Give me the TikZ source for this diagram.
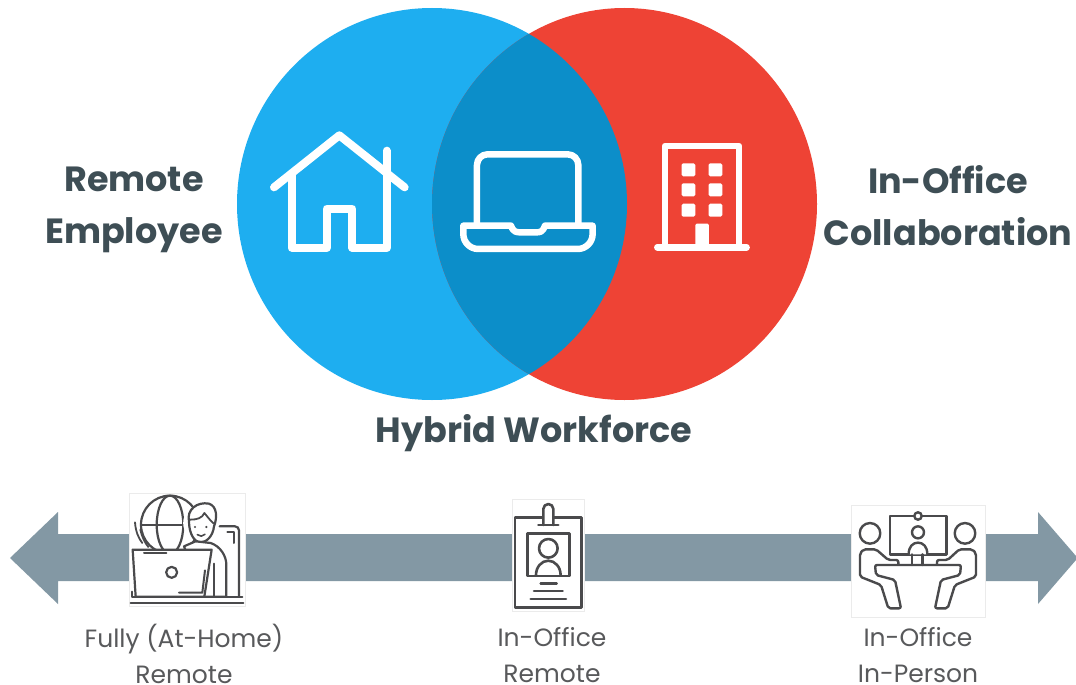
\documentclass[tikz,border=0pt]{standalone}
\usepackage{fontspec}
\setmainfont{Poppins}
\definecolor{cblue}{HTML}{1EAEF0}
\definecolor{cred}{HTML}{EE4335}
\definecolor{cmid}{HTML}{0C8EC9}
\definecolor{cbar}{HTML}{8398A4}
\definecolor{chead}{HTML}{3E4E55}
\definecolor{ccap}{HTML}{58595B}
\definecolor{cicon}{HTML}{4A4A4C}
\tikzset{
 headlabel/.style={font=\fontsize{35}{52}\selectfont\bfseries,text=chead,align=center,inner sep=0pt},
 caplabel/.style={font=\fontsize{25}{36}\selectfont,text=ccap,align=center,inner sep=0pt},
 wicon/.style={draw=white,line width=#1,line join=round,line cap=round},
 dicon/.style={draw=cicon,line width=#1,line join=round,line cap=round},
 ibox/.style={fill=white,draw=black!8,line width=.5pt}
}
\begin{document}
\begin{tikzpicture}[x=1pt,y=-1pt]
\useasboundingbox (0,0) rectangle (1076,685);
\fill[white] (0,0) rectangle (1076,685);
% Venn
\fill[cblue] (432,204) ellipse [x radius=195,y radius=196];
\fill[cred] (624.5,204) ellipse [x radius=192.5,y radius=196];
\begin{scope}
\clip (432,204) ellipse [x radius=195,y radius=196];
\fill[cmid] (624.5,204) ellipse [x radius=192.5,y radius=196];
\end{scope}
% top icons
\begin{scope}[shift={(250,110)},x=.3333pt,y=-.3333pt]
\draw[wicon=8pt] (72,232) -- (268,76) -- (464,232);
\draw[wicon=8pt] (125,195) -- (125,413) -- (230,413) -- (230,296) -- (307,296) -- (307,413) -- (410,413) -- (410,122);
\draw[wicon=6.5pt] (681,345) -- (681,165) arc[start angle=180,end angle=90,radius=10.7pt] -- (953,133) arc[start angle=90,end angle=0,radius=10.7pt] -- (985,345);
\draw[wicon=6.5pt] (640,347) -- (783,347) .. controls (790,367) and (800,367) .. (812,367) -- (858,367) .. controls (870,367) and (878,367) .. (885,347) -- (1028,347) -- (1028,372) arc[start angle=0,end angle=-90,radius=15pt] -- (685,417) arc[start angle=-90,end angle=-180,radius=15pt] -- cycle;
\draw[wicon=6.5pt] (1245,412) -- (1245,108) -- (1467,108) -- (1467,412);
\draw[wicon=6.5pt] (1222,412) -- (1490,412);
\foreach \xa in {1295,1376}\foreach \ya in {160,220,281}
 \fill[white,rounded corners=1.5pt] (\xa,\ya) rectangle ++(41,39);
\fill[white,rounded corners=1.5pt] (1336,341) rectangle (1377,412);
\end{scope}
% bar
\fill[cbar] (10,558) -- (58,512) -- (58,534) -- (1038,534) -- (1038,512) -- (1076,556) -- (1076,560) -- (1038,604) -- (1038,581) -- (58,581) -- (58,604) -- cycle;
\path[ibox] (129,493) rectangle (245,606);
\path[ibox] (512,499) rectangle (584,611);
\path[ibox] (851,505) rectangle (985,617);
% laptop person
\begin{scope}[shift={(129,493)},x=.3333pt,y=-.3333pt]
\draw[dicon=2.2pt] (123,95) circle (29pt);
\draw[dicon=2.2pt] (123,95) ellipse [x radius=13.3pt,y radius=29pt];
\draw[dicon=2.2pt] (36,97) -- (210,97);
\draw[dicon=1.8pt] (18,88) .. controls (20,115) and (28,135) .. (40,150);
\draw[dicon=1.8pt] (34,110) .. controls (38,130) and (48,150) .. (58,162);
\fill[white] (218,90) circle (18.5pt);
\draw[dicon=2.2pt,fill=white] (180,85) .. controls (172,50) and (205,25) .. (240,32) .. controls (265,40) and (265,75) .. (255,100) .. controls (252,130) and (232,148) .. (215,148) .. controls (195,148) and (180,120) .. (180,85) -- cycle;
\draw[dicon=1.8pt] (183,80) .. controls (205,80) and (220,75) .. (226,60) .. controls (235,70) and (245,85) .. (255,92);
\fill[cicon] (198,102) circle (1.2pt) (232,102) circle (1.2pt);
\draw[dicon=1.6pt] (205,125) .. controls (212,131) and (222,131) .. (228,124);
\draw[dicon=2.2pt] (272,100) -- (318,100) arc[start angle=90,end angle=0,radius=4pt] -- (330,311);
\draw[dicon=2.0pt] (295,118) -- (315,118) -- (315,150);
\draw[dicon=2.2pt,fill=white] (165,160) -- (200,145) -- (245,150) .. controls (275,160) and (292,190) .. (292,215) -- (292,311) -- (225,311) -- cycle;
\draw[dicon=2pt] (256,212) -- (256,311);
\draw[dicon=2.2pt,fill=white] (11,170) -- (248,170) -- (226,311) -- (20,311) -- cycle;
\draw[dicon=2pt] (45,180) -- (112,180);
\draw[dicon=2.2pt] (128,238) circle (5.5pt);
\draw[dicon=2pt] (150,299) -- (220,299) -- (228,232);
\draw[dicon=2.2pt] (10,296) -- (10,311) -- (340,311);
\draw[dicon=2.2pt] (5,329) -- (343,329);
\end{scope}
% badge
\begin{scope}[shift={(480,490)},x=.3333pt,y=-.3333pt]
\draw[dicon=2.6pt] (105,82) rectangle (305,352);
\draw[dicon=2.6pt,fill=white] (190,105) -- (190,57) arc[start angle=180,end angle=0,radius=5pt] -- (220,105);
\draw[dicon=2.6pt] (175,105) -- (235,105);
\draw[dicon=2.6pt] (142,130) rectangle (268,258);
\draw[dicon=2.6pt] (205,175) circle (9.3pt);
\draw[dicon=2.6pt] (168,255) arc[start angle=180,end angle=0,x radius=12.3pt,y radius=14.3pt];
\draw[dicon=2.6pt] (182,280) -- (230,280);
\draw[dicon=2.6pt] (162,303) -- (248,303);
\draw[dicon=2.6pt] (152,327) -- (258,327);
\end{scope}
% meeting
\begin{scope}[shift={(851,505)},x=.3333pt,y=-.3333pt]
\draw[dicon=2.4pt] (117,33) rectangle (287,148);
\draw[dicon=2.4pt,fill=white] (201,33) circle (3.7pt);
\draw[dicon=2.4pt,fill=white] (201,82) circle (6pt);
\draw[dicon=2.4pt,fill=white] (173,148) .. controls (173,125) and (185,113) .. (201,113) .. controls (217,113) and (229,125) .. (229,148);
\draw[dicon=2.4pt] (183,148) -- (183,180) (215,148) -- (215,180);
\draw[dicon=2.4pt] (57,85) circle (10.3pt);
\draw[dicon=2.4pt] (342,85) circle (10.3pt);
\draw[dicon=2.4pt,rounded corners=2pt] (142,180) -- (142,165) -- (112,165) -- (75,133) -- (38,133) -- (27,145) -- (27,215) -- (90,240) -- (112,310) -- (150,310) -- (132,225) -- (75,210) -- (72,180) -- (330,180) -- (327,210) -- (270,225) -- (252,310) -- (290,310) -- (312,240) -- (375,215) -- (375,145) -- (364,133) -- (325,133) -- (290,165) -- (258,165) -- (258,180);
\end{scope}
% labels
\node[headlabel] (remote) at (134,210) {Remote\\Employee};
\node[headlabel] (office) at (948,205.5) {In-Office\\Collaboration};
\node[headlabel] (hybrid) at (534,433) {Hybrid Workforce};
\node[caplabel] (c1) at (184,654) {Fully (At-Home)\\Remote};
\node[caplabel] (c2) at (552,655) {In-Office\\Remote};
\node[caplabel] (c3) at (918,655) {In-Office\\In-Person};
\end{tikzpicture}
\end{document}
